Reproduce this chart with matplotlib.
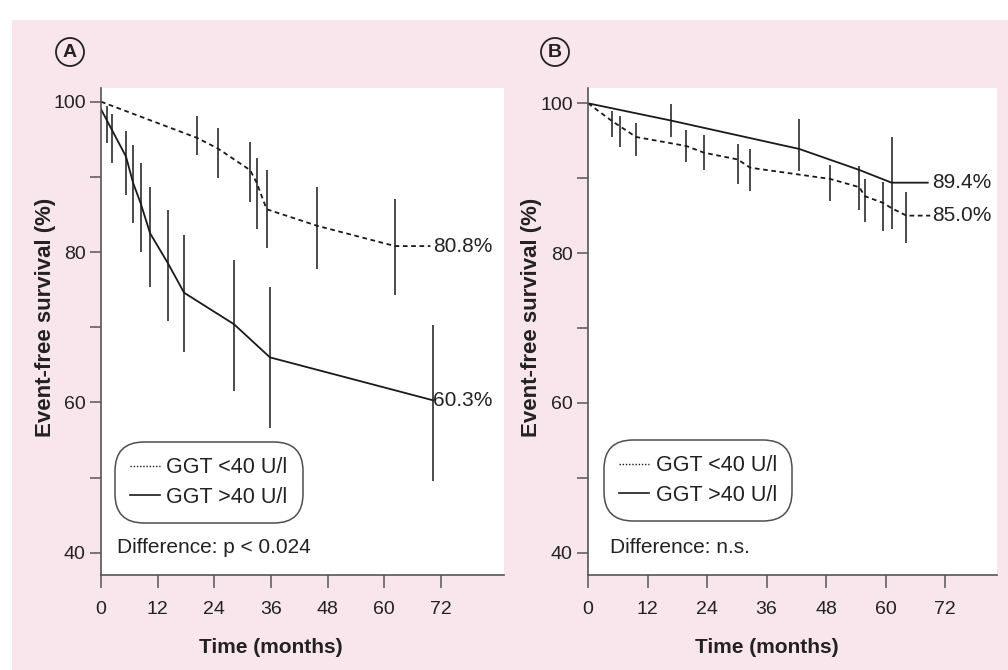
import matplotlib
matplotlib.use("Agg")
import matplotlib.pyplot as plt
from matplotlib.patches import Rectangle, Ellipse
from matplotlib.lines import Line2D

plt.rcParams['font.family'] = ['Liberation Sans', 'DejaVu Sans']

# panel A: GGT <40 (dashed) and GGT >40 (solid)
a_low_t = [0, 20.3, 24.7, 31.6, 33.0, 35.1, 45.8, 62.3, 69.8]
a_low_s = [100, 95.2, 93.8, 90.9, 89.2, 85.7, 83.5, 80.8, 80.8]
a_low_bar_t = [20.3, 24.7, 31.6, 33.0, 35.1, 45.8, 62.3]
a_low_bar_hi = [98.1, 96.5, 94.6, 92.5, 90.9, 88.7, 87.0]
a_low_bar_lo = [92.9, 89.9, 86.7, 83.1, 80.5, 77.7, 74.3]

a_high_t = [0, 5.3, 6.8, 8.4, 10.4, 14.2, 17.6, 28.2, 35.8, 70.3]
a_high_s = [99.0, 92.7, 89.2, 86.5, 82.5, 78.5, 74.6, 70.4, 66.0, 60.3]
a_high_bar_t = [1.2, 2.4, 5.3, 6.8, 8.4, 10.4, 14.2, 17.6, 28.2, 35.8, 70.3]
a_high_bar_hi = [99.4, 98.4, 96.1, 94.3, 91.8, 88.7, 85.6, 82.3, 79.0, 75.3, 70.3]
a_high_bar_lo = [94.5, 91.8, 87.6, 83.9, 80.0, 75.3, 70.8, 66.7, 61.5, 56.6, 49.5]

# panel B
b_low_t = [0, 4.9, 6.5, 9.7, 19.8, 23.4, 30.2, 32.7, 48.8, 54.7, 55.8, 59.5, 61.2, 64.2, 69.0]
b_low_s = [100, 97.6, 96.9, 95.5, 94.3, 93.4, 92.5, 91.4, 89.9, 88.8, 87.6, 86.7, 86.0, 85.0, 85.0]
b_low_bar_t = [4.9, 6.5, 9.7, 19.8, 23.4, 30.2, 32.7, 48.8, 54.7, 55.8, 59.5, 64.2]
b_low_bar_hi = [99.0, 98.3, 97.4, 96.4, 95.8, 94.6, 93.9, 91.8, 91.6, 89.9, 89.5, 88.1]
b_low_bar_lo = [95.5, 94.1, 92.9, 92.1, 91.1, 89.2, 88.3, 87.0, 85.7, 84.1, 82.9, 81.3]

b_high_t = [0, 16.7, 42.6, 54.7, 61.2, 68.5]
b_high_s = [100, 97.7, 93.9, 91.1, 89.4, 89.4]
b_high_bar_t = [16.7, 42.6, 61.2]
b_high_bar_hi = [99.9, 97.9, 95.5]
b_high_bar_lo = [95.5, 90.9, 83.2]

labels = ['GGT <40 U/l', 'GGT >40 U/l']
end_labels_a = ['80.8%', '60.3%']
end_labels_b = ['85.0%', '89.4%']

W, H = 1008, 670
fig = plt.figure(figsize=(W / 100, H / 100), dpi=100, facecolor='white')
pink = '#f8e6ec'
fig.add_artist(Rectangle((12 / W, 0), 1 - 12 / W, 1 - 20 / H, transform=fig.transFigure,
                         facecolor=pink, edgecolor='none', zorder=-10))

axA = fig.add_axes([101 / W, 95 / H, 403 / W, 487 / H])
axB = fig.add_axes([588 / W, 95 / H, 409 / W, 487 / H])

dash = (0, (2.6, 2.0))
bar_col = '#3d3d3d'
ink = '#222222'
fs = 15


def panel(ax, low, high, endlab, diff, xlim, ylim, lab_x, leg_anchor, diff_x):
    lt, ls, lbt, lbh, lbl = low
    ht, hs, hbt, hbh, hbl = high
    ax.vlines(lbt, lbl, lbh, color=bar_col, lw=1.3)
    ax.vlines(hbt, hbl, hbh, color=bar_col, lw=1.3)
    ax.plot(lt, ls, color='#1a1a1a', lw=1.3, ls=dash)
    ax.plot(ht, hs, color='#1a1a1a', lw=1.3)
    ax.text(lab_x, ls[-1], endlab[0], fontsize=fs, va='center', ha='left', color=ink)
    ax.text(lab_x, hs[-1], endlab[1], fontsize=fs, va='center', ha='left', color=ink)
    ax.set_xlim(*xlim)
    ax.set_ylim(*ylim)
    ax.set_xticks(range(0, 73, 12))
    ax.set_yticks([40, 60, 80, 100])
    ax.set_yticks([50, 70, 90], minor=True)
    for s in ['top', 'right']:
        ax.spines[s].set_visible(False)
    for s in ['left', 'bottom']:
        ax.spines[s].set_color('#555555')
        ax.spines[s].set_linewidth(1.2)
    ax.tick_params(axis='x', direction='out', length=9.5, width=1.1, color='#555555',
                   labelsize=14, pad=9, labelcolor=ink)
    ax.tick_params(axis='y', which='both', direction='out', length=8, width=1.1,
                   color='#555555', labelsize=14, pad=3, labelcolor=ink)
    ax.set_xlabel('Time (months)', fontsize=15, fontweight='bold', color=ink)
    ax.set_ylabel('Event-free survival (%)', fontsize=16, fontweight='bold', color=ink)
    ax.xaxis.set_label_coords(36 / xlim[1], -0.13)
    ax.yaxis.set_label_coords(-0.112, 0.53)
    handles = [Line2D([], [], color='#1a1a1a', lw=1.0, ls=(0, (1.0, 1.3))),
               Line2D([], [], color='#1a1a1a', lw=1.2)]
    leg = ax.legend(handles, labels, loc='upper left', bbox_to_anchor=leg_anchor,
                    fontsize=15.5, frameon=True, handlelength=1.4, handletextpad=0.3,
                    borderpad=0.5, labelspacing=0.4, borderaxespad=0)
    fr = leg.get_frame()
    fr.set_boxstyle('round', pad=0.2, rounding_size=1.35)
    fr.set_edgecolor(ink)
    fr.set_linewidth(1.1)
    for t in leg.get_texts():
        t.set_color(ink)
    ax.text(diff_x, 0.057, diff, transform=ax.transAxes, fontsize=fs, va='center',
            ha='left', color=ink)


panel(axA,
      (a_low_t, a_low_s, a_low_bar_t, a_low_bar_hi, a_low_bar_lo),
      (a_high_t, a_high_s, a_high_bar_t, a_high_bar_hi, a_high_bar_lo),
      end_labels_a, 'Difference: p < 0.024', (0, 85.4), (37.06, 101.82), 70.3,
      (0.045, 0.264), 0.04)
panel(axB,
      (b_low_t, b_low_s, b_low_bar_t, b_low_bar_hi, b_low_bar_lo),
      (b_high_t, b_high_s, b_high_bar_t, b_high_bar_hi, b_high_bar_lo),
      end_labels_b, 'Difference: n.s.', (0, 82.46), (37.02, 102.04), 69.4,
      (0.05, 0.268), 0.054)

for cx, letter in [(70, 'A'), (555, 'B')]:
    fig.add_artist(Ellipse((cx / W, 1 - 52 / H), 28 / W, 28 / H, transform=fig.transFigure,
                           fill=False, edgecolor=ink, lw=1.3))
    fig.text(cx / W, 1 - 52.5 / H, letter, fontsize=14, fontweight='bold',
             ha='center', va='center', color=ink)

fig.savefig('out.png', dpi=100, facecolor=fig.get_facecolor())
